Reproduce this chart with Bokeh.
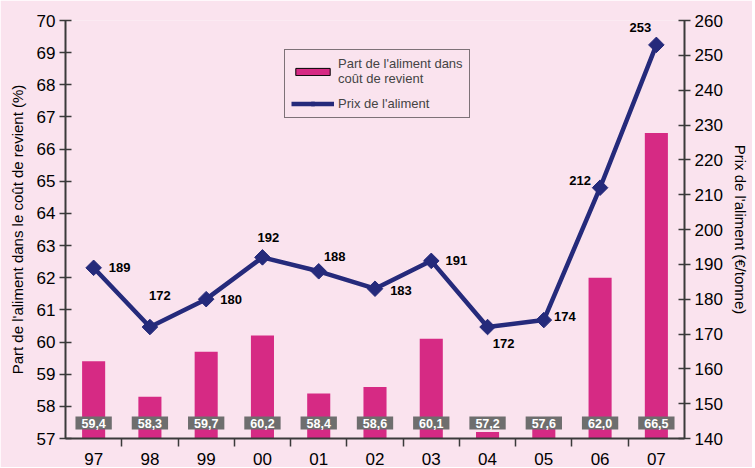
import math
from bokeh.plotting import figure
from bokeh.models import (Range1d, LinearAxis, FixedTicker, ColumnDataSource,
                          LabelSet, Legend, LegendItem)
from bokeh.core.properties import value
from bokeh.embed import file_html
from bokeh.resources import INLINE

# ---- data ----
years = ["97", "98", "99", "00", "01", "02", "03", "04", "05", "06", "07"]
share = [59.4, 58.3, 59.7, 60.2, 58.4, 58.6, 60.1, 57.2, 57.6, 62.0, 66.5]
price = [189, 172, 180, 192, 188, 183, 191, 172, 174, 212, 253]

left_ticks = list(range(57, 71))
right_ticks = list(range(140, 261, 10))

# label placement styles (screen px offsets for price labels)
price_dx = [26, 10, 25, 6, 16, 26, 25, 16, 21, -20, -16]
price_dy = [0, 32, 0, 20, 15, -2, 0, -16, 4, 7, 17]

BG = "#FAE3EE"
BAR = "#D62A84"
LINE = "#252A7B"
AXIS = "#3A3A3A"
FONT = "Liberation Sans"

n = len(years)
xs = [i + 0.5 for i in range(n)]

src = ColumnDataSource(dict(
    x=xs, year=years, share=share, price=price,
    share_txt=[f"{v:.1f}".replace(".", ",") for v in share],
    price_txt=[str(v) for v in price],
    dx=price_dx, dy=price_dy,
    base=[left_ticks[0]] * n,
))

p = figure(width=752, height=467, x_range=Range1d(0, n),
           y_range=Range1d(left_ticks[0], left_ticks[-1]),
           output_backend="svg", toolbar_location=None,
           min_border_left=65, min_border_right=68,
           min_border_top=20, min_border_bottom=29,
           background_fill_color=BG, border_fill_color=BG,
           outline_line_color=None)
p.xgrid.visible = False
p.ygrid.visible = False

p.extra_y_ranges = {"price": Range1d(right_ticks[0], right_ticks[-1])}

# bars
bars = p.vbar(x="x", width=0.41, bottom="base", top="share", source=src,
              fill_color=BAR, line_color=None)
# hidden outlined copy, used only as the legend swatch
bar_key = p.vbar(x="x", width=0.41, bottom="base", top="share", source=src,
                 fill_color=BAR, line_color="black", line_width=1,
                 visible=False)

# value boxes
p.text(x="x", y="base", text="share_txt", source=src,
       y_offset=-15.5, text_align="center", text_baseline="middle",
       text_color="white", text_font=value(FONT), text_font_style="bold",
       text_font_size="12.5px", background_fill_color="#6E6E6E",
       padding=[6, 6, 2, 2])

# price line
ln = p.line(x="x", y="price", source=src, y_range_name="price",
            line_color=LINE, line_width=4.5)
mk = p.scatter(x="x", y="price", source=src, y_range_name="price",
               marker="square", angle=math.pi / 4, size=11,
               fill_color=LINE, line_color=LINE)

plabels = LabelSet(x="x", y="price", text="price_txt", source=src,
                   y_range_name="price", x_offset="dx", y_offset="dy",
                   text_align="center", text_baseline="middle",
                   text_color="black", text_font=value(FONT),
                   text_font_style="bold", text_font_size="13px")
p.add_layout(plabels)

# axes styling
def style_axis(ax):
    ax.axis_line_color = AXIS
    ax.axis_line_width = 2
    ax.major_tick_line_color = AXIS
    ax.major_tick_line_width = 1.5
    ax.minor_tick_line_color = None
    ax.major_label_text_font = FONT
    ax.major_label_text_font_size = "17px"
    ax.major_label_text_color = "black"
    ax.axis_label_text_font = FONT
    ax.axis_label_text_font_size = "15px"
    ax.axis_label_text_font_style = "normal"
    ax.axis_label_text_color = "black"

ya = p.yaxis[0]
style_axis(ya)
ya.ticker = FixedTicker(ticks=left_ticks)
ya.major_tick_in = 6
ya.major_tick_out = 6
ya.major_label_standoff = 4
ya.axis_label = "Part de l'aliment dans le coût de revient (%)"
ya.axis_label_standoff = 8

ra = LinearAxis(y_range_name="price", ticker=FixedTicker(ticks=right_ticks),
                axis_label="Prix de l'aliment (€/tonne)")
style_axis(ra)
ra.major_tick_in = 6
ra.major_tick_out = 6
ra.major_label_standoff = 4
ra.axis_label_standoff = 6
p.add_layout(ra, "right")

xa = p.xaxis[0]
style_axis(xa)
xa.ticker = FixedTicker(ticks=xs, minor_ticks=list(range(1, n)))
xa.major_label_overrides = {x: y for x, y in zip(xs, years)}
xa.major_tick_line_color = None
xa.minor_tick_line_color = AXIS
xa.minor_tick_line_width = 1.5
xa.minor_tick_in = 0
xa.minor_tick_out = 8
xa.major_tick_out = 8
xa.major_tick_in = 0
xa.major_label_standoff = 6

# legend
legend = Legend(items=[
    LegendItem(label="Part de l'aliment dans\ncoût de revient", renderers=[bar_key]),
    LegendItem(label="Prix de l'aliment", renderers=[ln, mk]),
], location=(219, 320))
legend.border_line_color = "black"
legend.border_line_width = 1
legend.background_fill_alpha = 0
legend.inactive_fill_alpha = 0
legend.label_text_font = FONT
legend.label_text_font_size = "13px"
legend.label_text_line_height = 1.0
legend.glyph_width = 43
legend.glyph_height = 9
legend.spacing = 10
legend.padding = 6
legend.margin = 0
legend.label_standoff = 4
p.add_layout(legend)

open("out.html", "w").write(file_html(p, INLINE))
